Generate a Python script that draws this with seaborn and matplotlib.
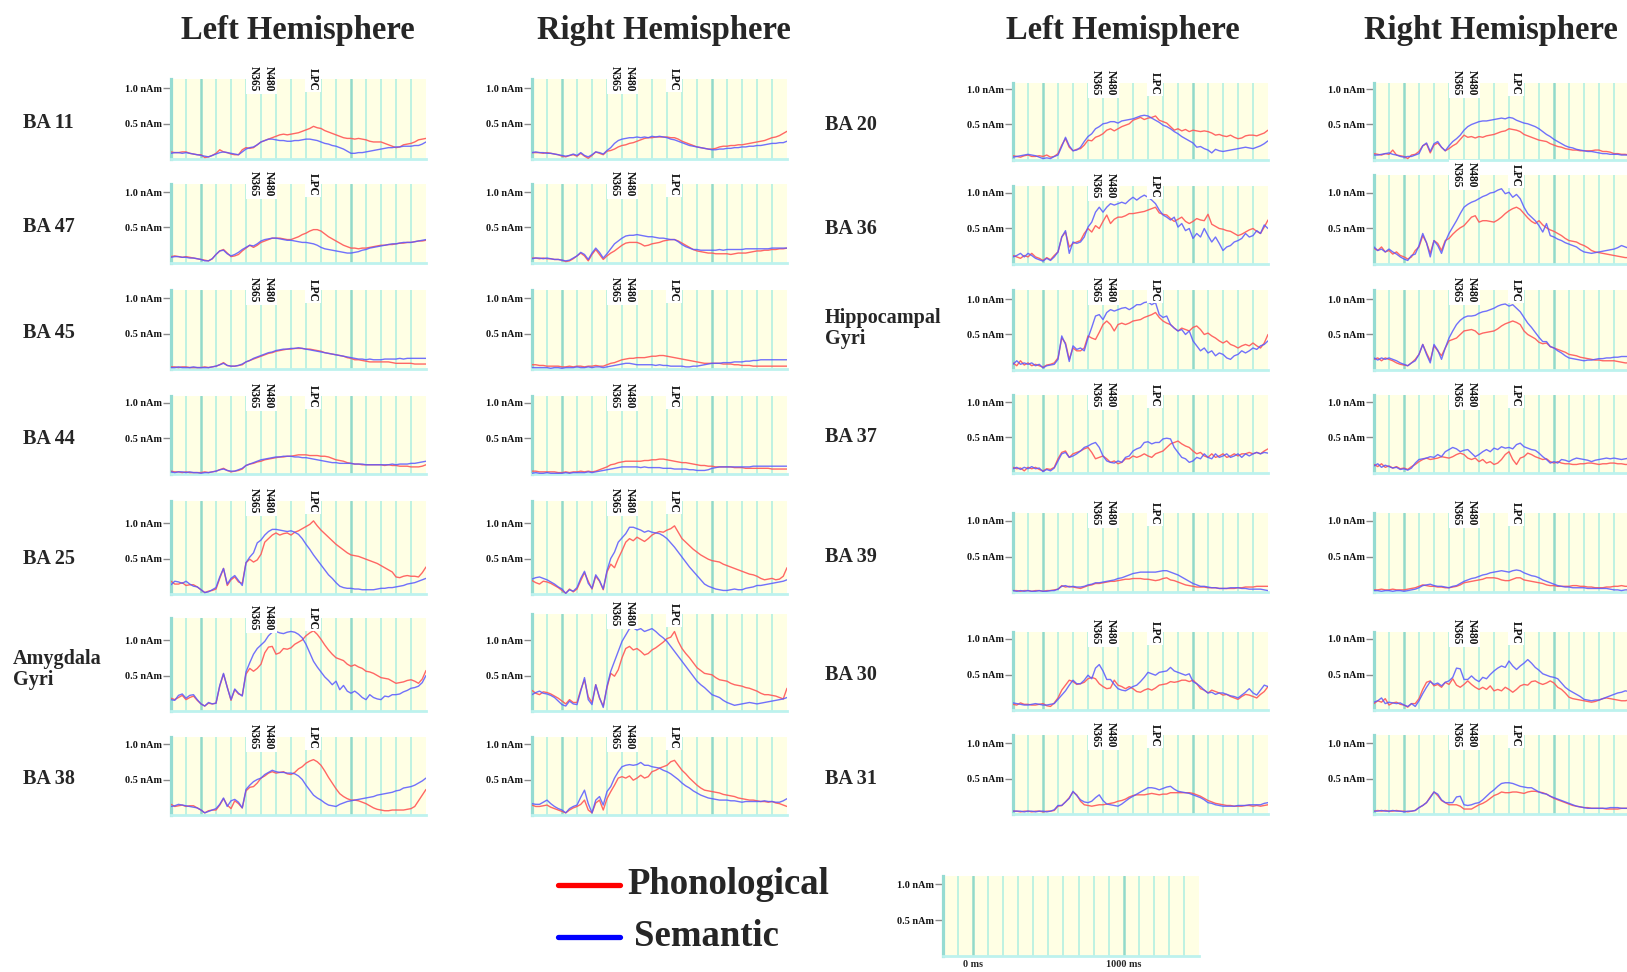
import matplotlib
matplotlib.use("Agg")
import matplotlib.pyplot as plt
import matplotlib.transforms as mtransforms
from matplotlib.lines import Line2D
import seaborn as sns

sns.set_theme(style="white")
plt.rcParams["font.family"] = ["Liberation Serif", "DejaVu Serif"]

# ---------------------------------------------------------------- data
# source strength (nAm) sampled every 25 ms from -200 ms to 1500 ms
time_ms = list(range(-200, 1501, 25))

events = [("N365", 350), ("N480", 455), ("LPC", 745)]

# --- left hemisphere, frontal / limbic group
l_ba11_phon = [.10,.09,.09,.10,.10,.08,.07,.06,.06,.02,
               .03,.05,.08,.13,.10,.09,.07,.06,.06,.13,
               .16,.15,.16,.20,.24,.26,.28,.30,.32,.34,
               .35,.34,.35,.36,.37,.39,.41,.43,.46,.44,
               .43,.40,.38,.36,.34,.32,.30,.29,.29,.28,
               .29,.28,.27,.25,.24,.24,.24,.22,.20,.18,
               .16,.17,.20,.21,.22,.24,.27,.28,.29]
l_ba11_sem = [.08,.09,.09,.08,.09,.08,.07,.06,.05,.04,
              .03,.05,.07,.09,.10,.09,.08,.07,.06,.10,
              .14,.16,.17,.20,.24,.26,.28,.28,.27,.26,
              .26,.25,.25,.26,.26,.27,.28,.28,.27,.26,
              .24,.22,.21,.19,.18,.16,.14,.11,.08,.08,
              .09,.09,.10,.11,.12,.13,.14,.15,.16,.16,
              .17,.17,.18,.18,.18,.19,.19,.21,.24]
l_ba47_phon = [.09,.10,.09,.08,.09,.08,.07,.06,.05,.04,
               .03,.06,.12,.17,.19,.14,.09,.10,.12,.17,
               .21,.25,.22,.25,.29,.31,.33,.35,.35,.35,
               .34,.33,.33,.35,.37,.40,.42,.45,.47,.47,
               .45,.41,.37,.34,.31,.28,.25,.23,.21,.21,
               .20,.21,.21,.22,.23,.24,.25,.25,.26,.26,
               .27,.28,.28,.29,.29,.30,.31,.31,.32]
l_ba47_sem = [.08,.09,.09,.08,.08,.07,.07,.06,.05,.03,
              .03,.06,.12,.17,.18,.13,.10,.12,.15,.19,
              .22,.25,.24,.27,.31,.33,.34,.35,.35,.34,
              .33,.32,.32,.31,.30,.29,.29,.28,.27,.25,
              .22,.20,.19,.18,.17,.16,.15,.14,.14,.15,
              .16,.18,.19,.21,.22,.23,.24,.25,.26,.27,
              .27,.28,.29,.29,.29,.30,.31,.32,.33]
l_ba45_phon = [.03,.03,.02,.03,.03,.02,.02,.02,.02,.03,
               .02,.03,.04,.06,.09,.05,.04,.04,.05,.06,
               .10,.12,.14,.16,.18,.20,.22,.23,.25,.26,
               .27,.28,.28,.29,.29,.29,.28,.28,.27,.26,
               .25,.23,.22,.21,.20,.19,.18,.16,.15,.13,
               .13,.12,.11,.10,.10,.10,.10,.10,.10,.09,
               .08,.08,.08,.08,.08,.07,.07,.07,.07]
l_ba45_sem = [.02,.02,.03,.02,.02,.02,.03,.02,.02,.02,
              .02,.03,.04,.06,.08,.05,.04,.04,.05,.07,
              .10,.12,.15,.17,.19,.21,.23,.24,.26,.27,
              .28,.28,.29,.29,.30,.29,.28,.27,.26,.25,
              .24,.23,.22,.21,.20,.19,.18,.17,.16,.15,
              .14,.14,.13,.14,.13,.13,.13,.14,.14,.14,
              .14,.15,.14,.15,.15,.15,.15,.15,.15]
l_ba44_phon = [.04,.03,.03,.02,.03,.02,.02,.02,.02,.03,
               .02,.03,.04,.06,.08,.05,.03,.04,.05,.07,
               .12,.14,.15,.17,.18,.20,.21,.22,.23,.24,
               .24,.25,.25,.26,.27,.27,.27,.26,.26,.26,
               .25,.25,.24,.22,.20,.19,.18,.16,.15,.14,
               .14,.13,.13,.13,.13,.13,.13,.12,.13,.12,
               .12,.11,.11,.11,.10,.10,.10,.11,.13]
l_ba44_sem = [.03,.02,.03,.03,.02,.03,.02,.02,.01,.02,
              .02,.03,.04,.06,.07,.05,.04,.04,.06,.08,
              .12,.14,.16,.18,.20,.21,.22,.23,.24,.24,
              .25,.25,.25,.24,.24,.23,.23,.22,.21,.20,
              .19,.18,.17,.16,.16,.15,.15,.15,.15,.14,
              .14,.14,.13,.13,.13,.13,.13,.13,.13,.14,
              .13,.14,.14,.14,.15,.15,.16,.17,.18]
l_ba25_phon = [.18,.14,.14,.16,.12,.13,.13,.10,.06,.02,
               .04,.05,.07,.22,.36,.12,.20,.24,.17,.15,
               .44,.49,.45,.48,.56,.73,.78,.83,.86,.83,
               .85,.86,.83,.87,.89,.92,.95,.98,1.03,.96,
               .90,.85,.80,.75,.70,.66,.62,.58,.55,.54,
               .53,.51,.49,.47,.45,.43,.40,.37,.34,.31,
               .24,.23,.25,.26,.25,.25,.24,.30,.38]
l_ba25_sem = [.13,.18,.17,.15,.18,.14,.11,.10,.06,.02,
              .03,.06,.09,.24,.36,.14,.22,.26,.19,.12,
              .44,.52,.58,.72,.76,.83,.88,.91,.91,.90,
              .89,.88,.89,.87,.84,.78,.70,.63,.55,.48,
              .41,.34,.27,.22,.16,.11,.09,.08,.08,.07,
              .07,.06,.06,.06,.06,.07,.08,.08,.09,.09,
              .10,.11,.12,.14,.15,.16,.18,.20,.22]
l_amy_phon = [.18,.16,.19,.22,.16,.19,.21,.15,.10,.07,
              .11,.10,.11,.35,.52,.34,.15,.30,.24,.22,
              .52,.60,.56,.60,.66,.82,.90,.91,.80,.82,
              .88,.87,.89,.94,.97,1.00,1.06,1.10,1.13,1.08,
              1.01,.93,.86,.80,.75,.73,.71,.66,.63,.65,
              .62,.60,.56,.55,.53,.50,.47,.46,.45,.42,
              .39,.40,.41,.43,.44,.42,.39,.45,.57]
l_amy_sem = [.16,.15,.22,.24,.18,.22,.23,.16,.10,.07,
             .12,.10,.11,.36,.53,.33,.16,.31,.25,.21,
             .55,.68,.80,.88,.93,.98,1.06,1.11,1.12,1.10,
             1.09,1.11,1.12,1.11,1.08,1.03,.94,.82,.70,.62,
             .55,.48,.43,.37,.42,.30,.36,.28,.25,.28,
             .24,.19,.16,.23,.19,.17,.16,.21,.20,.23,
             .23,.24,.27,.29,.32,.33,.35,.40,.50]
l_ba38_phon = [.15,.12,.13,.14,.12,.13,.13,.10,.07,.03,
               .06,.07,.07,.14,.23,.14,.09,.20,.16,.10,
               .34,.39,.40,.45,.52,.55,.59,.61,.59,.60,
               .61,.58,.57,.60,.65,.68,.73,.76,.78,.75,
               .70,.62,.53,.45,.37,.30,.26,.23,.21,.21,
               .20,.18,.16,.13,.10,.08,.07,.06,.06,.07,
               .07,.07,.07,.08,.09,.12,.20,.28,.36]
l_ba38_sem = [.12,.13,.15,.14,.13,.12,.11,.10,.07,.03,
              .05,.07,.09,.15,.24,.12,.20,.22,.18,.10,
              .36,.42,.47,.50,.52,.57,.60,.63,.61,.60,
              .60,.59,.59,.58,.55,.50,.42,.35,.28,.24,
              .21,.17,.14,.13,.12,.15,.17,.19,.20,.21,
              .22,.23,.24,.25,.26,.28,.29,.30,.31,.32,
              .34,.35,.38,.39,.40,.42,.45,.48,.52]

# --- right hemisphere, frontal / limbic group
r_ba11_phon = [.09,.09,.09,.08,.09,.08,.07,.06,.04,.03,
               .05,.06,.04,.08,.04,.01,.05,.10,.08,.06,
               .11,.12,.14,.17,.19,.20,.22,.23,.25,.27,
               .29,.30,.30,.31,.31,.31,.31,.30,.30,.28,
               .25,.23,.21,.19,.17,.16,.15,.14,.14,.15,
               .17,.18,.18,.19,.19,.20,.20,.21,.22,.23,
               .24,.25,.26,.28,.30,.31,.33,.36,.39]
r_ba11_sem = [.09,.10,.09,.09,.08,.08,.07,.06,.05,.04,
              .05,.07,.05,.09,.05,.03,.06,.10,.09,.07,
              .12,.16,.22,.26,.28,.29,.30,.30,.31,.30,
              .31,.30,.32,.31,.32,.31,.30,.28,.27,.25,
              .23,.21,.19,.18,.17,.16,.15,.14,.13,.13,
              .14,.14,.15,.15,.16,.16,.17,.17,.18,.18,
              .19,.19,.20,.21,.22,.22,.23,.23,.25]
r_ba47_phon = [.07,.07,.06,.07,.06,.06,.05,.05,.04,.02,
               .03,.06,.10,.14,.10,.03,.12,.19,.12,.05,
               .10,.14,.17,.21,.25,.28,.29,.29,.29,.27,
               .24,.25,.27,.28,.29,.31,.32,.33,.33,.31,
               .28,.25,.22,.19,.17,.16,.15,.14,.14,.13,
               .13,.13,.13,.12,.13,.14,.14,.14,.15,.16,
               .17,.17,.18,.18,.19,.19,.20,.20,.21]
r_ba47_sem = [.06,.07,.07,.06,.07,.06,.05,.05,.04,.03,
              .04,.07,.10,.15,.12,.05,.14,.21,.15,.07,
              .13,.20,.27,.31,.35,.38,.39,.39,.40,.39,
              .38,.37,.37,.36,.35,.35,.34,.33,.33,.30,
              .26,.23,.21,.19,.19,.18,.18,.18,.18,.18,
              .19,.18,.19,.19,.19,.19,.19,.20,.20,.20,
              .20,.20,.20,.20,.21,.21,.21,.21,.21]
r_ba45_phon = [.06,.06,.05,.05,.04,.04,.04,.04,.03,.03,
               .04,.03,.04,.04,.03,.04,.04,.05,.04,.04,
               .06,.08,.09,.11,.13,.14,.15,.15,.16,.16,
               .16,.17,.18,.18,.19,.19,.18,.17,.16,.15,
               .14,.13,.12,.11,.10,.09,.08,.08,.08,.08,
               .08,.07,.07,.07,.06,.06,.05,.05,.05,.04,
               .04,.04,.04,.04,.04,.04,.04,.04,.04]
r_ba45_sem = [.02,.02,.02,.02,.02,.01,.02,.02,.01,.02,
              .02,.02,.03,.02,.02,.03,.02,.03,.03,.02,
              .03,.04,.05,.06,.07,.08,.08,.07,.06,.06,
              .06,.06,.06,.05,.06,.05,.05,.04,.04,.04,
              .04,.03,.03,.04,.04,.05,.06,.07,.08,.08,
              .08,.09,.09,.09,.10,.10,.10,.11,.11,.12,
              .12,.13,.13,.13,.13,.13,.13,.13,.13]
r_ba44_phon = [.04,.04,.03,.03,.03,.03,.03,.02,.02,.03,
               .02,.03,.03,.04,.03,.04,.03,.04,.06,.08,
               .10,.13,.14,.16,.17,.18,.18,.18,.18,.18,
               .19,.19,.20,.20,.21,.21,.20,.19,.18,.17,
               .16,.16,.15,.14,.13,.12,.12,.11,.11,.10,
               .10,.10,.10,.10,.09,.09,.09,.08,.08,.08,
               .08,.08,.08,.08,.07,.07,.07,.07,.07]
r_ba44_sem = [.01,.02,.01,.01,.02,.01,.01,.01,.01,.02,
              .01,.02,.02,.02,.02,.03,.02,.03,.04,.05,
              .06,.07,.08,.09,.10,.10,.10,.10,.10,.09,
              .10,.09,.09,.09,.09,.08,.08,.08,.07,.07,
              .07,.07,.06,.06,.05,.05,.05,.06,.08,.09,
              .10,.10,.10,.10,.10,.10,.10,.10,.10,.11,
              .11,.11,.11,.11,.11,.11,.11,.11,.11]
r_ba25_phon = [.19,.16,.14,.18,.17,.15,.12,.09,.05,.01,
               .07,.03,.07,.19,.30,.18,.07,.25,.18,.06,
               .31,.42,.37,.50,.61,.73,.78,.75,.80,.77,
               .74,.78,.83,.86,.88,.87,.90,.92,.96,.87,
               .78,.73,.68,.63,.59,.55,.52,.49,.47,.46,
               .45,.42,.40,.38,.36,.34,.32,.30,.28,.27,
               .25,.22,.20,.21,.22,.20,.21,.25,.37]
r_ba25_sem = [.21,.23,.24,.22,.20,.17,.14,.10,.07,.01,
              .06,.04,.09,.22,.32,.15,.08,.27,.19,.07,
              .33,.50,.59,.73,.79,.85,.94,.94,.92,.90,
              .87,.89,.87,.86,.85,.82,.78,.72,.66,.59,
              .52,.45,.38,.32,.26,.20,.14,.11,.09,.07,
              .06,.05,.05,.06,.07,.06,.06,.08,.09,.10,
              .12,.12,.13,.14,.15,.16,.17,.18,.20]
r_amy_phon = [.29,.25,.23,.27,.26,.24,.21,.18,.14,.10,
              .16,.12,.12,.30,.44,.20,.12,.37,.18,.07,
              .33,.53,.49,.58,.75,.88,.91,.86,.88,.84,
              .79,.81,.86,.89,.93,.97,1.02,1.04,1.12,.98,
              .88,.81,.75,.68,.61,.57,.53,.52,.51,.47,
              .44,.43,.42,.39,.37,.36,.35,.33,.32,.30,
              .28,.25,.23,.23,.22,.21,.19,.17,.32]
r_amy_sem = [.23,.26,.28,.25,.24,.22,.19,.14,.09,.07,
             .14,.10,.09,.28,.47,.16,.09,.37,.19,.05,
             .35,.56,.70,.84,.98,1.07,1.16,1.17,1.14,1.16,
             1.12,1.14,1.16,1.12,1.07,1.03,.98,.91,.84,.77,
             .70,.63,.56,.49,.42,.37,.33,.28,.23,.21,
             .19,.15,.12,.10,.08,.09,.10,.11,.12,.11,
             .10,.11,.12,.13,.14,.15,.16,.17,.19]
r_ba38_phon = [.14,.12,.12,.13,.14,.11,.09,.07,.05,.03,
               .07,.10,.12,.15,.21,.07,.03,.17,.21,.07,
               .23,.33,.42,.52,.54,.52,.55,.49,.52,.56,
               .52,.54,.61,.63,.66,.68,.70,.75,.77,.70,
               .63,.58,.52,.47,.42,.38,.35,.34,.33,.32,
               .31,.29,.28,.27,.26,.24,.23,.22,.21,.21,
               .20,.19,.19,.18,.19,.17,.16,.14,.12]
r_ba38_sem = [.16,.15,.15,.18,.21,.16,.12,.09,.07,.03,
              .09,.12,.14,.25,.35,.16,.03,.21,.26,.14,
              .33,.40,.52,.61,.68,.70,.71,.70,.71,.74,
              .70,.70,.68,.67,.66,.63,.61,.58,.54,.50,
              .45,.41,.38,.34,.31,.28,.26,.24,.23,.22,
              .21,.21,.21,.20,.20,.19,.18,.19,.19,.19,
              .19,.19,.20,.19,.19,.18,.18,.20,.23]

# --- left hemisphere, temporal / parietal group
l_ba20_phon = [.06,.05,.04,.06,.07,.05,.05,.06,.05,.07,
               .04,.05,.09,.21,.30,.18,.13,.15,.16,.21,
               .28,.27,.32,.34,.37,.42,.44,.41,.44,.47,
               .49,.51,.56,.58,.60,.57,.59,.60,.62,.56,
               .54,.52,.47,.42,.44,.41,.43,.40,.42,.41,
               .40,.41,.40,.38,.35,.36,.34,.33,.35,.32,
               .30,.31,.34,.35,.35,.34,.36,.38,.42]
l_ba20_sem = [.04,.05,.06,.07,.08,.07,.06,.04,.02,.03,
              .02,.05,.07,.19,.32,.20,.13,.14,.18,.26,
              .33,.37,.44,.47,.51,.52,.54,.54,.52,.55,
              .56,.57,.58,.60,.62,.63,.62,.59,.56,.53,
              .49,.47,.44,.40,.37,.33,.30,.27,.24,.18,
              .19,.16,.14,.10,.15,.13,.12,.13,.14,.15,
              .16,.17,.18,.17,.16,.18,.20,.23,.27]
l_ba36_phon = [.12,.10,.08,.12,.10,.15,.10,.08,.05,.09,
               .06,.12,.17,.38,.45,.24,.29,.31,.33,.43,
               .50,.45,.54,.50,.60,.69,.57,.63,.66,.66,
               .68,.71,.71,.72,.73,.74,.76,.78,.80,.72,
               .70,.69,.64,.60,.63,.66,.60,.57,.60,.64,
               .62,.61,.70,.56,.53,.50,.49,.47,.46,.43,
               .40,.42,.45,.48,.50,.46,.43,.52,.62]
l_ba36_sem = [.10,.12,.15,.10,.15,.12,.08,.06,.04,.08,
              .05,.10,.17,.38,.47,.15,.31,.29,.31,.38,
              .52,.59,.73,.80,.73,.80,.85,.83,.85,.87,
              .85,.90,.94,.90,.94,.97,.94,.90,.85,.76,
              .69,.66,.62,.66,.52,.57,.47,.50,.36,.43,
              .38,.50,.40,.31,.38,.29,.19,.24,.26,.31,
              .33,.36,.43,.38,.40,.47,.43,.55,.50]
l_hip_phon = [.10,.06,.13,.07,.10,.06,.08,.06,.04,.07,
              .08,.10,.17,.45,.38,.15,.31,.27,.27,.31,
              .48,.45,.43,.53,.64,.69,.64,.55,.64,.66,
              .64,.66,.69,.70,.71,.74,.76,.78,.81,.74,
              .69,.66,.64,.59,.55,.59,.57,.55,.60,.62,
              .57,.50,.52,.48,.45,.41,.38,.41,.36,.34,
              .31,.34,.36,.34,.38,.34,.31,.38,.50]
l_hip_sem = [.08,.13,.08,.10,.08,.10,.06,.08,.03,.06,
             .07,.08,.15,.48,.36,.12,.34,.29,.31,.27,
             .45,.60,.76,.78,.71,.81,.85,.83,.85,.87,
             .88,.85,.88,.92,.92,.95,.96,.92,.95,.78,
             .74,.76,.64,.59,.55,.57,.50,.55,.41,.34,
             .27,.31,.24,.27,.20,.24,.22,.17,.15,.20,
             .22,.27,.24,.27,.31,.29,.34,.36,.41]
l_ba37_phon = [.08,.06,.07,.03,.08,.06,.08,.05,.03,.06,
               .05,.08,.20,.29,.31,.22,.27,.29,.31,.34,
               .36,.29,.20,.22,.24,.20,.15,.17,.13,.15,
               .20,.20,.24,.22,.24,.27,.24,.22,.27,.29,
               .31,.36,.41,.43,.45,.41,.38,.36,.31,.27,
               .29,.24,.22,.27,.22,.24,.27,.22,.24,.27,
               .24,.27,.27,.29,.27,.29,.27,.31,.34]
l_ba37_sem = [.06,.08,.05,.08,.06,.09,.06,.07,.02,.05,
              .03,.07,.17,.27,.29,.22,.24,.27,.31,.36,
              .38,.41,.43,.36,.24,.17,.15,.14,.17,.15,
              .22,.24,.31,.34,.36,.43,.44,.41,.43,.43,
              .48,.49,.48,.36,.29,.22,.20,.15,.17,.22,
              .20,.27,.22,.20,.27,.22,.24,.27,.22,.24,
              .27,.22,.27,.24,.27,.29,.27,.29,.28]
l_ba39_phon = [.02,.02,.01,.02,.02,.01,.02,.02,.01,.02,
               .02,.03,.04,.09,.07,.08,.07,.06,.05,.07,
               .09,.10,.12,.12,.13,.14,.15,.15,.16,.17,
               .18,.18,.19,.19,.19,.18,.18,.17,.16,.17,
               .19,.20,.17,.16,.14,.12,.10,.09,.08,.07,
               .07,.07,.06,.06,.06,.05,.05,.05,.05,.05,
               .06,.06,.07,.07,.07,.08,.08,.08,.08]
l_ba39_sem = [.02,.01,.02,.01,.02,.01,.01,.02,.01,.01,
              .02,.02,.04,.08,.09,.07,.08,.07,.07,.08,
              .10,.11,.13,.13,.14,.15,.16,.17,.19,.20,
              .22,.24,.26,.27,.28,.28,.28,.28,.28,.29,
              .30,.30,.28,.26,.24,.21,.18,.15,.12,.10,
              .08,.08,.07,.06,.06,.05,.05,.05,.06,.06,
              .06,.05,.05,.04,.04,.04,.04,.03,.02]
l_ba30_phon = [.08,.07,.10,.08,.08,.07,.07,.08,.09,.06,
               .05,.10,.17,.28,.35,.42,.40,.36,.37,.39,
               .44,.46,.44,.37,.33,.30,.31,.42,.35,.33,
               .30,.33,.30,.26,.25,.28,.30,.28,.31,.35,
               .36,.37,.40,.39,.40,.42,.42,.40,.42,.37,
               .30,.28,.24,.28,.26,.24,.21,.22,.19,.17,
               .15,.19,.22,.21,.19,.17,.22,.26,.33]
l_ba30_sem = [.10,.09,.08,.07,.07,.08,.09,.08,.07,.07,
              .08,.09,.15,.21,.27,.35,.42,.37,.37,.42,
              .49,.44,.59,.64,.55,.43,.43,.36,.30,.28,
              .27,.30,.33,.35,.40,.46,.53,.51,.49,.53,
              .54,.55,.60,.55,.53,.51,.49,.51,.40,.37,
              .33,.28,.24,.25,.22,.24,.24,.22,.20,.19,
              .17,.21,.25,.30,.24,.21,.28,.35,.33]
l_ba31_phon = [.04,.04,.03,.04,.04,.03,.04,.04,.03,.04,
               .04,.05,.11,.12,.17,.23,.31,.27,.18,.13,
               .12,.11,.12,.13,.13,.14,.15,.16,.18,.19,
               .21,.24,.26,.27,.27,.27,.28,.29,.28,.27,
               .28,.28,.30,.30,.30,.30,.30,.30,.29,.27,
               .25,.22,.19,.17,.15,.14,.13,.12,.12,.11,
               .11,.11,.12,.12,.11,.12,.11,.12,.13]
l_ba31_sem = [.04,.04,.04,.03,.04,.04,.03,.04,.04,.03,
              .04,.06,.12,.12,.17,.22,.32,.26,.20,.17,
              .16,.18,.23,.27,.19,.14,.13,.12,.11,.14,
              .18,.22,.25,.28,.31,.34,.37,.37,.36,.34,
              .36,.38,.39,.35,.32,.31,.30,.29,.27,.25,
              .23,.20,.16,.15,.13,.12,.11,.11,.11,.11,
              .12,.12,.12,.13,.13,.13,.13,.15,.16]

# --- right hemisphere, temporal / parietal group
r_ba20_phon = [.09,.08,.07,.09,.08,.14,.07,.06,.05,.02,
               .07,.08,.12,.20,.23,.10,.21,.24,.18,.13,
               .16,.20,.23,.29,.35,.32,.33,.31,.33,.32,
               .34,.35,.36,.38,.40,.41,.44,.43,.42,.40,
               .36,.34,.32,.30,.28,.27,.26,.23,.21,.19,
               .18,.16,.15,.14,.14,.13,.13,.13,.13,.14,
               .14,.12,.12,.11,.09,.09,.08,.08,.07]
r_ba20_sem = [.07,.07,.08,.09,.10,.08,.07,.05,.04,.05,
              .05,.07,.09,.20,.24,.12,.23,.26,.18,.13,
              .20,.26,.30,.35,.42,.47,.50,.52,.54,.55,
              .55,.56,.57,.58,.59,.58,.60,.59,.56,.54,
              .52,.51,.49,.47,.44,.40,.36,.33,.29,.26,
              .23,.20,.18,.17,.15,.14,.13,.12,.12,.11,
              .10,.09,.09,.08,.08,.08,.07,.07,.07]
r_ba36_phon = [.22,.19,.24,.17,.19,.14,.17,.12,.10,.07,
               .10,.19,.24,.40,.30,.15,.33,.29,.19,.33,
               .36,.42,.47,.51,.54,.60,.66,.68,.59,.61,
               .61,.60,.59,.62,.66,.71,.75,.78,.80,.77,
               .71,.65,.60,.57,.61,.55,.51,.48,.46,.43,
               .40,.36,.33,.32,.31,.28,.26,.23,.19,.17,
               .16,.15,.14,.13,.12,.11,.10,.09,.09]
r_ba36_sem = [.24,.19,.21,.17,.21,.17,.14,.10,.07,.05,
              .12,.14,.26,.43,.30,.10,.33,.26,.15,.31,
              .43,.52,.61,.71,.80,.84,.87,.89,.92,.95,
              .97,1.00,1.01,1.04,1.06,.99,1.01,.94,.98,.92,
              .80,.71,.66,.61,.54,.45,.57,.40,.38,.35,
              .33,.30,.28,.26,.24,.20,.17,.16,.15,.16,
              .17,.18,.19,.20,.21,.23,.26,.24,.22]
r_hip_phon = [.15,.17,.13,.17,.15,.13,.10,.08,.07,.06,
              .10,.15,.22,.36,.24,.13,.34,.27,.20,.31,
              .41,.43,.45,.50,.55,.56,.57,.55,.50,.52,
              .53,.54,.55,.58,.62,.65,.67,.69,.67,.64,
              .55,.50,.47,.44,.39,.37,.38,.33,.31,.29,
              .27,.25,.22,.21,.20,.18,.17,.16,.15,.14,
              .14,.13,.13,.13,.13,.12,.11,.10,.10]
r_hip_sem = [.17,.14,.17,.15,.17,.15,.13,.10,.08,.06,
             .10,.13,.22,.36,.22,.10,.36,.28,.15,.31,
             .45,.55,.64,.70,.74,.76,.76,.77,.80,.82,
             .83,.85,.87,.90,.92,.93,.90,.92,.87,.82,
             .74,.66,.60,.53,.46,.40,.40,.33,.31,.27,
             .24,.20,.17,.16,.15,.14,.13,.14,.14,.15,
             .16,.16,.17,.17,.18,.18,.19,.19,.19]
r_ba37_phon = [.12,.09,.13,.08,.10,.07,.09,.06,.07,.05,
               .09,.12,.16,.19,.21,.19,.20,.21,.23,.22,
               .21,.23,.26,.28,.26,.21,.19,.21,.16,.19,
               .14,.16,.12,.14,.19,.26,.30,.19,.12,.21,
               .23,.28,.26,.23,.21,.19,.20,.16,.14,.16,
               .14,.13,.13,.12,.12,.13,.13,.14,.14,.13,
               .12,.13,.13,.14,.14,.13,.13,.12,.12]
r_ba37_sem = [.10,.13,.08,.11,.09,.07,.08,.05,.06,.04,
              .07,.14,.19,.20,.21,.23,.22,.26,.23,.30,
              .33,.36,.34,.30,.32,.33,.28,.23,.26,.30,
              .33,.30,.35,.33,.37,.35,.36,.34,.40,.42,
              .37,.35,.33,.32,.28,.23,.19,.14,.16,.14,
              .19,.18,.16,.19,.21,.20,.19,.18,.16,.18,
              .19,.20,.21,.20,.21,.20,.19,.20,.21]
r_ba39_phon = [.03,.03,.04,.03,.03,.04,.03,.03,.03,.04,
               .05,.06,.08,.10,.09,.08,.08,.07,.07,.06,
               .06,.07,.08,.10,.13,.14,.15,.16,.17,.18,
               .20,.20,.20,.19,.17,.16,.16,.18,.20,.20,
               .17,.16,.15,.14,.13,.12,.10,.09,.09,.08,
               .08,.08,.08,.09,.09,.08,.08,.07,.07,.06,
               .06,.06,.07,.07,.08,.08,.09,.08,.08]
r_ba39_sem = [.02,.02,.01,.02,.02,.01,.02,.02,.01,.02,
              .03,.04,.06,.09,.10,.11,.09,.08,.08,.07,
              .06,.08,.09,.12,.15,.17,.19,.20,.22,.24,
              .25,.27,.28,.29,.30,.29,.28,.30,.31,.30,
              .27,.25,.23,.22,.20,.17,.15,.13,.11,.09,
              .08,.07,.07,.06,.06,.06,.06,.05,.05,.05,
              .05,.05,.05,.04,.03,.03,.02,.03,.03]
r_ba30_phon = [.09,.13,.11,.16,.07,.10,.11,.08,.07,.04,
               .09,.09,.16,.29,.39,.41,.34,.36,.32,.39,
               .36,.44,.35,.32,.36,.41,.36,.32,.29,.32,
               .29,.34,.27,.29,.27,.32,.29,.25,.29,.34,
               .36,.35,.40,.41,.38,.36,.38,.41,.38,.32,
               .29,.24,.18,.16,.15,.14,.13,.12,.11,.12,
               .14,.16,.17,.16,.15,.14,.13,.13,.14]
r_ba30_sem = [.11,.13,.17,.09,.11,.10,.09,.10,.07,.05,
              .09,.05,.13,.23,.32,.40,.36,.38,.34,.39,
              .41,.46,.59,.58,.43,.43,.48,.43,.40,.46,
              .44,.50,.55,.59,.62,.60,.69,.62,.57,.62,
              .66,.71,.66,.60,.56,.51,.49,.47,.46,.44,
              .38,.32,.28,.25,.22,.19,.15,.14,.13,.14,
              .14,.16,.18,.20,.22,.24,.25,.27,.26]
r_ba31_phon = [.04,.05,.04,.05,.04,.04,.05,.04,.04,.03,
               .04,.05,.09,.12,.16,.24,.31,.26,.19,.16,
               .13,.13,.13,.11,.07,.07,.07,.10,.13,.15,
               .18,.22,.26,.28,.31,.30,.30,.31,.31,.30,
               .29,.31,.32,.32,.31,.30,.28,.25,.22,.20,
               .18,.16,.14,.12,.11,.10,.09,.09,.08,.08,
               .08,.08,.07,.07,.07,.07,.08,.08,.08]
r_ba31_sem = [.04,.04,.05,.04,.04,.05,.04,.04,.03,.04,
              .04,.05,.09,.12,.16,.23,.31,.28,.20,.16,
              .16,.16,.24,.25,.13,.12,.13,.15,.16,.20,
              .25,.30,.34,.39,.43,.44,.44,.43,.41,.39,
              .38,.37,.37,.34,.31,.29,.28,.25,.23,.21,
              .19,.17,.15,.13,.11,.10,.09,.08,.08,.08,
              .08,.08,.08,.09,.09,.09,.08,.08,.08]

region_names_front = ["BA 11", "BA 47", "BA 45", "BA 44", "BA 25",
                      "Amygdala\nGyri", "BA 38"]
region_names_back = ["BA 20", "BA 36", "Hippocampal\nGyri", "BA 37",
                     "BA 39", "BA 30", "BA 31"]
column_titles = ["Left Hemisphere", "Right Hemisphere",
                 "Left Hemisphere", "Right Hemisphere"]
y_tick_values = [0.5, 1.0]
y_tick_labels = ["0.5 nAm", "1.0 nAm"]
scale_tick_values = [0, 1000]
scale_tick_labels = ["0 ms", "1000 ms"]

columns = [
    [(l_ba11_phon, l_ba11_sem), (l_ba47_phon, l_ba47_sem), (l_ba45_phon, l_ba45_sem),
     (l_ba44_phon, l_ba44_sem), (l_ba25_phon, l_ba25_sem), (l_amy_phon, l_amy_sem),
     (l_ba38_phon, l_ba38_sem)],
    [(r_ba11_phon, r_ba11_sem), (r_ba47_phon, r_ba47_sem), (r_ba45_phon, r_ba45_sem),
     (r_ba44_phon, r_ba44_sem), (r_ba25_phon, r_ba25_sem), (r_amy_phon, r_amy_sem),
     (r_ba38_phon, r_ba38_sem)],
    [(l_ba20_phon, l_ba20_sem), (l_ba36_phon, l_ba36_sem), (l_hip_phon, l_hip_sem),
     (l_ba37_phon, l_ba37_sem), (l_ba39_phon, l_ba39_sem), (l_ba30_phon, l_ba30_sem),
     (l_ba31_phon, l_ba31_sem)],
    [(r_ba20_phon, r_ba20_sem), (r_ba36_phon, r_ba36_sem), (r_hip_phon, r_hip_sem),
     (r_ba37_phon, r_ba37_sem), (r_ba39_phon, r_ba39_sem), (r_ba30_phon, r_ba30_sem),
     (r_ba31_phon, r_ba31_sem)],
]
for col in columns:
    for phon, sem in col:
        assert len(phon) == len(time_ms) and len(sem) == len(time_ms)

# ---------------------------------------------------------------- layout (pixels)
W, H = 1627, 972
PX_PER_NAM = 71.0
PANEL_W = 255
col_left = [171, 532, 1013, 1374]
col_title_x = [298, 664, 1123, 1491]
rows_front = [(79, 159), (184, 263), (290, 369), (396, 474), (501, 594), (618, 711), (737, 815)]
rows_back = [(83, 160), (186, 264), (290, 370), (395, 473), (513, 592), (632, 710), (735, 814)]
top_override = {(1, 5): 614, (3, 1): 175}

PHON_COLOR = "#FF5656"
SEM_COLOR = "#5858FF"
FACE = "#FFFFE4"
GRID = "#B3F0E1"
GRID_MAJOR = "#92DACA"


def px_axes(left, top, width, height):
    return fig.add_axes([left / W, 1 - (top + height) / H, width / W, height / H])


def style_panel(ax, ymax):
    ax.set_facecolor(FACE)
    ax.set_xlim(-200, 1500)
    ax.set_ylim(0, ymax)
    for t in range(-100, 1500, 100):
        major = t in (0, 1000)
        ax.axvline(t, color=GRID_MAJOR if major else GRID,
                   lw=1.8 if major else 1.2, zorder=0.5)
    for side in ("top", "right"):
        ax.spines[side].set_visible(False)
    ax.spines["left"].set_color("#95DBD2")
    ax.spines["left"].set_linewidth(2.3)
    ax.spines["bottom"].set_color("#BDF2EE")
    ax.spines["bottom"].set_linewidth(2.0)
    ax.set_yticks(y_tick_values, y_tick_labels)
    ax.tick_params(axis="y", left=True, length=6, width=1.0, color="#8A8A8A",
                   pad=0.5, labelsize=7.3, labelcolor="#111111")
    for lab in ax.get_yticklabels():
        lab.set_fontweight("bold")
    ax.set_xlabel("")
    ax.set_ylabel("")


fig = plt.figure(figsize=(W / 100, H / 100), dpi=100)
fig.patch.set_facecolor("white")

for ci, col in enumerate(columns):
    rows = rows_front if ci < 2 else rows_back
    for ri, (phon, sem) in enumerate(col):
        top, bottom = rows[ri]
        top = top_override.get((ci, ri), top)
        height = bottom - top
        ax = px_axes(col_left[ci], top, PANEL_W, height)
        sns.lineplot(x=time_ms, y=phon, ax=ax, color=PHON_COLOR, linewidth=1.0,
                     estimator=None, errorbar=None, legend=False, zorder=3, alpha=0.9)
        sns.lineplot(x=time_ms, y=sem, ax=ax, color=SEM_COLOR, linewidth=1.0,
                     estimator=None, errorbar=None, legend=False, zorder=3, alpha=0.85)
        style_panel(ax, height / PX_PER_NAM)
        ax.set_xticks([])
        trans = mtransforms.blended_transform_factory(ax.transData, ax.transAxes)
        for name, pos in events:
            ax.text(pos, 1.0, name, transform=trans, rotation=270, ha="center",
                    va="center", fontsize=8.3, fontweight="bold", color="#111111",
                    bbox=dict(fc="white", ec="none", pad=1.3), zorder=6, clip_on=False)

# column titles
for x, title in zip(col_title_x, column_titles):
    fig.text(x / W, 1 - 30 / H, title, ha="center", va="center",
             fontsize=23.5, fontweight="bold")

# region labels, aligned with the 0.5 nAm tick of each row
for name, (top, bottom) in zip(region_names_front, rows_front):
    x = 13 if name.startswith("Amygdala") else 23
    y = bottom - 0.5 * PX_PER_NAM - (6 if "\n" in name else 0)
    fig.text(x / W, 1 - y / H, name, ha="left", va="center", fontsize=14.5,
             fontweight="bold", linespacing=1.05)
for name, (top, bottom) in zip(region_names_back, rows_back):
    y = bottom - 0.5 * PX_PER_NAM - (6 if "\n" in name else 0)
    fig.text(825 / W, 1 - y / H, name, ha="left", va="center", fontsize=14.5,
             fontweight="bold", linespacing=1.05)

# legend
fig.add_artist(Line2D([558 / W, 620 / W], [1 - 885 / H] * 2, color="#FF0000", lw=3.8,
                      solid_capstyle="round"))
fig.add_artist(Line2D([558 / W, 620 / W], [1 - 937 / H] * 2, color="#0000FF", lw=3.8,
                      solid_capstyle="round"))
fig.text(627 / W, 1 - 884 / H, "Phonological", ha="left", va="center",
         fontsize=26.5, fontweight="bold")
fig.text(634 / W, 1 - 936 / H, "Semantic", ha="left", va="center",
         fontsize=26.5, fontweight="bold")

# calibration panel
sax = px_axes(943, 876, 256, 80)
style_panel(sax, 80 / 72.0)
sax.set_xticks(scale_tick_values, scale_tick_labels)
sax.tick_params(axis="x", bottom=False, length=0, pad=3, labelsize=7.3)
for lab in sax.get_xticklabels():
    lab.set_fontweight("bold")

fig.savefig("out.png", dpi=100, facecolor="white")
